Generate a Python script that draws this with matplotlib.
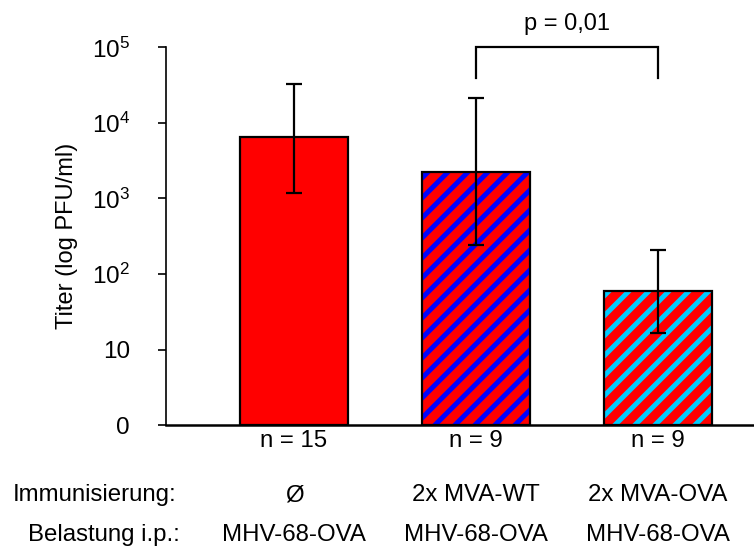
import numpy as np
import matplotlib
matplotlib.use("Agg")
import matplotlib.pyplot as plt
from matplotlib import backend_bases
from matplotlib.path import Path

plt.rcParams['font.family'] = ['Liberation Sans', 'DejaVu Sans']
plt.rcParams['mathtext.fontset'] = 'custom'
plt.rcParams['mathtext.rm'] = 'Liberation Sans'
plt.rcParams['hatch.linewidth'] = 3.6

# stripes a bit wider apart than matplotlib's default '//' hatch
def _hatch_path(self, density=6.0):
    h = self.get_hatch()
    if h is None:
        return None
    return Path.hatch(h, 5.0)
backend_bases.GraphicsContextBase.get_hatch_path = _hatch_path

# data
groups = ["Ø", "2x MVA-WT", "2x MVA-OVA"]
challenge = ["MHV-68-OVA", "MHV-68-OVA", "MHV-68-OVA"]
n_counts = [15, 9, 9]
titer = [6450, 2230, 59]
err_high = [32400, 21200, 206]
err_low = [1170, 240, 16.5]
hatch_colors = [None, "#0000ff", "#00ccff"]
tick_vals = [1, 10, 1e2, 1e3, 1e4, 1e5]
tick_labels = ["0", "10", r"$\mathregular{10^2}$", r"$\mathregular{10^3}$",
               r"$\mathregular{10^4}$", r"$\mathregular{10^5}$"]
p_text = "p = 0,01"

W, H = 754, 549
fig = plt.figure(figsize=(W / 100, H / 100), dpi=100)
ax = fig.add_axes([165.5 / W, (H - 425) / H, 1 - 165.5 / W, (425 - 47.5) / H])

x = np.arange(len(titer))
width = 0.593
for i in range(len(titer)):
    if hatch_colors[i] is None:
        ax.bar(x[i], titer[i], width, bottom=1, color="#ff0000", edgecolor="black",
               linewidth=1.6, zorder=2)
    else:
        ax.bar(x[i], titer[i], width, bottom=1, color="#ff0000", edgecolor=hatch_colors[i],
               hatch="//", linewidth=0, zorder=2)
        ax.bar(x[i], titer[i], width, bottom=1, fill=False, edgecolor="black",
               linewidth=1.6, zorder=3)

yerr = [np.array(titer) - np.array(err_low), np.array(err_high) - np.array(titer)]
ax.errorbar(x, titer, yerr=yerr, fmt="none", ecolor="black", elinewidth=1.6,
            capsize=5.5, capthick=1.6, zorder=4)

ax.set_yscale("log")
ax.set_ylim(1, 1e5)
ax.set_xlim(-0.706, 2.527)
ax.set_yticks(tick_vals)
ax.set_yticklabels(tick_labels)
ax.yaxis.set_minor_locator(matplotlib.ticker.NullLocator())
ax.tick_params(axis="y", direction="out", length=6, width=1.2, labelsize=17.5, pad=19.5)
ax.set_xticks([])
for s in ["top", "right"]:
    ax.spines[s].set_visible(False)
ax.spines["left"].set_linewidth(1.2)
ax.spines["bottom"].set_linewidth(1.8)
ax.set_ylabel("Titer (log PFU/ml)", fontsize=17, labelpad=10)

# significance bracket
ax.plot([1, 1, 2, 2], [3.9e4, 1e5, 1e5, 3.9e4], color="black", lw=1.6, clip_on=False,
        solid_joinstyle="miter")
ax.text(1.5, 2.05e5, p_text, ha="center", va="center", fontsize=17, clip_on=False)

# bottom annotations
def fx(px):
    return px / W

def fy(py):
    return 1 - py / H

centers = ax.transData.transform(np.column_stack([x, np.ones_like(x)]))[:, 0]
for i, c in enumerate(centers):
    fig.text(c / W, fy(441), "n = %d" % n_counts[i], ha="center", va="center", fontsize=17.3)
    fig.text(c / W, fy(495), groups[i], ha="center", va="center", fontsize=17.3)
    fig.text(c / W, fy(535), challenge[i], ha="center", va="center", fontsize=17.3)
fig.text(fx(13), fy(495), "Immunisierung:", ha="left", va="center", fontsize=17.3)
fig.text(fx(28), fy(535), "Belastung i.p.:", ha="left", va="center", fontsize=17.3)

fig.savefig("out.png", dpi=100)
